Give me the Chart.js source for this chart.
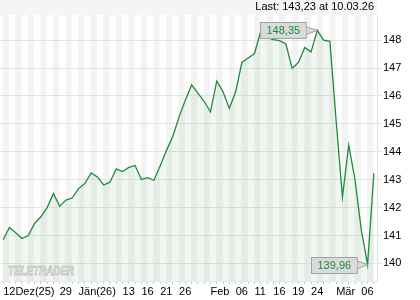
<!DOCTYPE html>
<html>
<head>
<meta charset="utf-8">
<script src="https://cdn.jsdelivr.net/npm/chart.js@4/dist/chart.umd.min.js"></script>
<style>
  html, body { margin: 0; padding: 0; background: #fff; }
</style>
</head>
<body>
<canvas id="chart" width="420" height="300"></canvas>
<script>
// ================= DATA =================
const dates = [
  "12.12.25","15.12.25","16.12.25","17.12.25","18.12.25","19.12.25","22.12.25","23.12.25","24.12.25","29.12.25",
  "30.12.25","31.12.25","02.01.26","05.01.26","06.01.26","07.01.26","08.01.26","09.01.26","12.01.26","13.01.26",
  "14.01.26","15.01.26","16.01.26","19.01.26","20.01.26","21.01.26","22.01.26","23.01.26","26.01.26","27.01.26",
  "28.01.26","29.01.26","30.01.26","02.02.26","03.02.26","04.02.26","05.02.26","06.02.26","09.02.26","10.02.26",
  "11.02.26","12.02.26","13.02.26","16.02.26","17.02.26","18.02.26","19.02.26","20.02.26","23.02.26","24.02.26",
  "25.02.26","26.02.26","27.02.26","02.03.26","03.03.26","04.03.26","05.03.26","06.03.26","09.03.26","10.03.26"
];

const closes = [
  140.85, 141.29, 141.10, 140.89, 141.00, 141.43, 141.67, 142.00, 142.50, 142.05,
  142.27, 142.35, 142.68, 142.86, 143.24, 143.10, 142.81, 142.91, 143.39, 143.29,
  143.44, 143.51, 143.01, 143.07, 142.98, 143.50, 144.05, 144.55, 145.25, 145.85,
  146.40, 146.10, 145.80, 145.43, 146.53, 146.15, 145.55, 146.15, 147.20, 147.36,
  147.52, 148.32, 148.10, 148.02, 147.98, 147.86, 146.99, 147.20, 147.74, 147.58,
  148.35, 148.00, 147.96, 145.10, 142.38, 144.24, 143.00, 141.20, 139.96, 143.23
];

const tickDates = ["12.12.25","29.12.25","02.01.26","13.01.26","16.01.26","21.01.26","26.01.26",
                   "02.02.26","06.02.26","11.02.26","16.02.26","19.02.26","24.02.26","02.03.26","06.03.26"];
const tickTexts = ["12Dez(25)","29","Jän(26)","13","16","21","26",
                   "Feb","06","11","16","19","24","Mär","06"];

const yTicks = [140, 141, 142, 143, 144, 145, 146, 147, 148];


// ================= HELPERS =================
const FONT = '"Liberation Sans", Arial, sans-serif';
Chart.defaults.font.family = FONT;
Chart.defaults.font.size = 11;
Chart.defaults.color = "#000";

function fmt(v){
  return v.toFixed(2).replace(".", ",");
}

function drawTag(ctx, pt, text){
  ctx.save();
  ctx.font = "11px " + FONT;
  const w = ctx.measureText(text).width + 12;
  const h = 16;
  const right = Math.round(pt.x - 12) + 0.5;
  const left = Math.round(right - w) + 0.5;
  const top = Math.round(pt.y - h / 2) + 0.5;

  // pointer
  ctx.beginPath();
  ctx.moveTo(right - 1, pt.y - 4);
  ctx.lineTo(pt.x, pt.y);
  ctx.lineTo(right - 1, pt.y + 5);
  ctx.closePath();
  ctx.fillStyle = "#dadada";
  ctx.strokeStyle = "#a3a3a3";
  ctx.lineWidth = 1;
  ctx.fill();
  ctx.stroke();

  // box
  ctx.fillRect(left, top, w, h);
  ctx.strokeRect(left, top, w, h);
  ctx.fillStyle = "#dadada";
  ctx.fillRect(right - 1.5, pt.y - 3, 2, 7);

  ctx.fillStyle = "#1f8a3c";
  ctx.textAlign = "center";
  ctx.textBaseline = "middle";
  ctx.fillText(text, left + w / 2, top + h / 2 + 0.5);
  ctx.restore();
}


// ================= BACKGROUND / OVERLAYS =================
const decor = {
  id: "decor",
  beforeDraw(chart){
    const {ctx, chartArea: a, scales: {x}} = chart;
    ctx.save();
    ctx.fillStyle = "#fff";
    ctx.fillRect(0, 0, chart.width, chart.height);

    // header band
    ctx.fillStyle = "#f5f5f5";
    ctx.fillRect(0, 0, a.right, a.top);

    // vertical stripes, one per trading day
    ctx.fillStyle = "#f3f3f3";
    for(let i = 0; i < dates.length - 1; i += 2){
      const x0 = x.getPixelForValue(i) - 0.5;
      const x1 = x.getPixelForValue(i + 1) - 0.5;
      ctx.fillRect(x0, a.top, x1 - x0, a.bottom - a.top);
    }
    ctx.restore();
  },
  afterDatasetsDraw(chart){
    const {ctx, chartArea: a} = chart;
    // watermark
    ctx.save();
    ctx.translate(8, a.bottom - 6);
    ctx.scale(0.82, 1);
    ctx.font = "italic bold 12px " + FONT;
    ctx.strokeStyle = "#c4c4c4";
    ctx.lineWidth = 1;
    ctx.strokeText("TELETRADER", 0, 0);
    ctx.restore();
  },
  afterDraw(chart){
    const {ctx, chartArea: a} = chart;
    const meta = chart.getDatasetMeta(0);

    ctx.save();
    ctx.font = "11px " + FONT;
    ctx.fillStyle = "#000";
    ctx.textAlign = "right";
    ctx.textBaseline = "middle";
    const n = closes.length - 1;
    ctx.fillText("Last: " + fmt(closes[n]) + " at " + dates[n], a.right - 3, 7);
    ctx.restore();

    const hi = closes.lastIndexOf(Math.max(...closes));
    const lo = closes.indexOf(Math.min(...closes));
    drawTag(ctx, meta.data[hi], fmt(closes[hi]));
    drawTag(ctx, meta.data[lo], fmt(closes[lo]));
  }
};


// ================= CHART =================
const chart = new Chart(document.getElementById("chart"), {
  type: "line",
  data: {
    labels: dates,
    datasets: [{
      data: closes,
      borderColor: "#1f8a3c",
      borderWidth: 1.3,
      backgroundColor: "rgba(60,140,70,0.08)",
      fill: "start",
      pointRadius: 0,
      tension: 0
    }]
  },
  options: {
    responsive: false,
    animation: false,
    layout: { padding: { top: 15, left: 0, right: 0, bottom: 0 } },
    plugins: { legend: { display: false }, tooltip: { enabled: false } },
    scales: {
      x: {
        offset: true,
        grid: { offset: false, drawOnChartArea: false, tickLength: 3, color: "#c9c9c9" },
        border: { color: "#e6e6e6" },
        ticks: {
          autoSkip: false,
          maxRotation: 0,
          align: "start",
          padding: 1,
          callback: (v, i) => {
            const k = tickDates.indexOf(dates[i]);
            return k < 0 ? "" : tickTexts[k];
          }
        },
        afterFit: s => { s.height = 19; }
      },
      y: {
        position: "right",
        min: 139.37,
        max: 148.9,
        grid: { color: "#e3e3e3", tickLength: 5 },
        border: { color: "#e3e3e3" },
        ticks: { padding: 1 },
        afterBuildTicks: s => { s.ticks = yTicks.map(v => ({ value: v })); },
        afterFit: s => { s.width = 43; }
      }
    }
  },
  plugins: [decor]
});
</script>
</body>
</html>
